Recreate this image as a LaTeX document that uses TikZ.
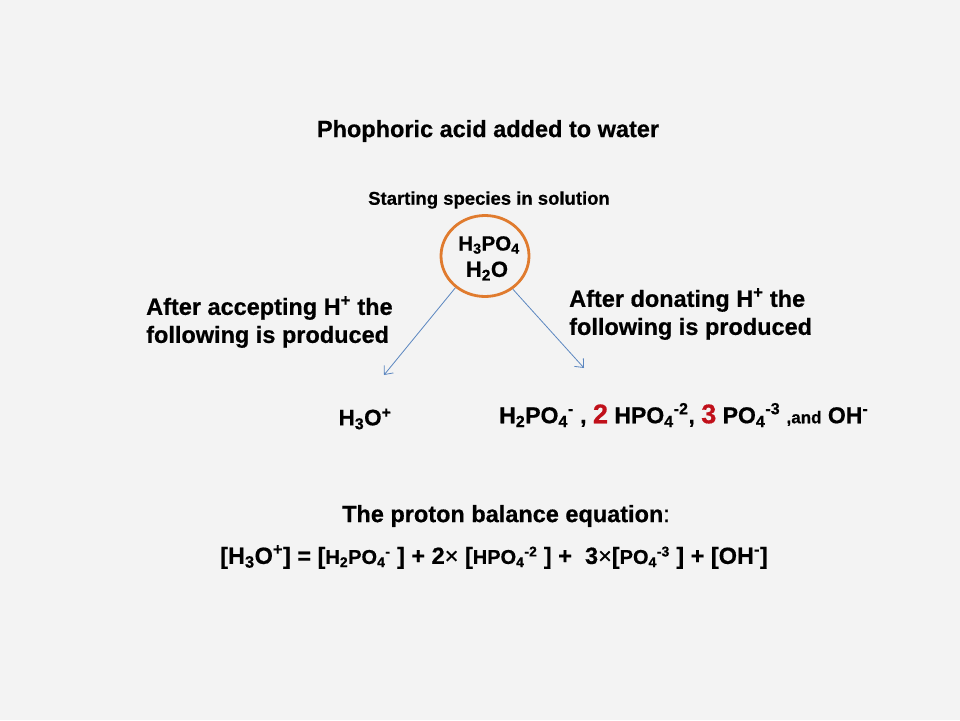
\documentclass[tikz,border=0pt]{standalone}
\usepackage{fontspec}
\usetikzlibrary{arrows.meta,shapes.geometric}
\newfontfamily\cf{Liberation Sans}[FakeBold=0.6]
\definecolor{bg}{HTML}{F3F3F3}
\definecolor{ring}{HTML}{E07B2E}
\definecolor{arrowblue}{HTML}{5B86C0}
\definecolor{redn}{HTML}{C0101A}
\newcommand\fs[1]{\fontsize{#1}{#1}\selectfont}
\newcommand\lo[1]{\textsubscript{#1}}
\newcommand\hi[1]{\textsuperscript{#1}}
\tikzset{
  txt/.style={inner sep=0pt, font=\cf\bfseries},
  arr/.style={draw=arrowblue, line width=0.8pt, -{Straight Barb[length=7pt,width=12pt]}},
}
\begin{document}
\begin{tikzpicture}[x=1pt,y=-1pt]
\fill[bg] (0,0) rectangle (960,720);
\useasboundingbox (0,0) rectangle (960,720);
\node[txt] (title) at (488,131) {\fs{23.5}Phophoric acid added to water};
\node[txt] (start) at (489,200) {\fs{18.5}Starting species in solution};
\node[ellipse, draw=ring, line width=2.8pt, minimum width=88pt, minimum height=81pt, inner sep=0pt] (circ) at (485,256) {};
\node[txt] (h3po4) at (489,245) {\fs{20.5}H\lo{3}PO\lo{4}};
\node[txt] (h2o) at (487,271) {\fs{22}H\lo{2}O};
\coordinate (accA) at (384,375);
\coordinate (donA) at (584,368);
\draw[arr] (circ.227) -- (accA);
\draw[arr] (circ.310) -- (donA);
\node[txt, anchor=west, align=left, font=\cf\bfseries\fontsize{23.5}{28}\selectfont] (acc) at (146,322) {After accepting H\hi{+} the\\following is produced};
\node[txt, anchor=west, align=left, font=\cf\bfseries\fontsize{23.5}{28}\selectfont] (don) at (569,314) {After donating H\hi{+} the\\following is produced};
\node[txt] (h3o) at (365,419) {\fs{22.5}H\lo{3}O\hi{+}};
\node[txt, anchor=west] (prods) at (499,415) {\fs{23}H\lo{2}PO\lo{4}\hi{-} , {\color{redn}\fs{27}2} HPO\lo{4}\hi{-2}, {\color{redn}\fs{27}3} PO\lo{4}\hi{-3} {\fs{17},and} OH\hi{-}};
\node[txt] (pbe) at (506,516) {\fs{23.5}The proton balance equation{\mdseries :}};
\node[txt] (eq) at (494,557) {\fs{23.5}[H\lo{3}O\hi{+}] = [{\fs{20}H\lo{2}PO\lo{4}\hi{-}} ] + 2{\mdseries\texttimes} [{\fs{20}HPO\lo{4}\hi{-2}} ] +\ \ 3{\mdseries\texttimes}[{\fs{20}PO\lo{4}\hi{-3}} ] + [OH\hi{-}]};
\end{tikzpicture}
\end{document}
